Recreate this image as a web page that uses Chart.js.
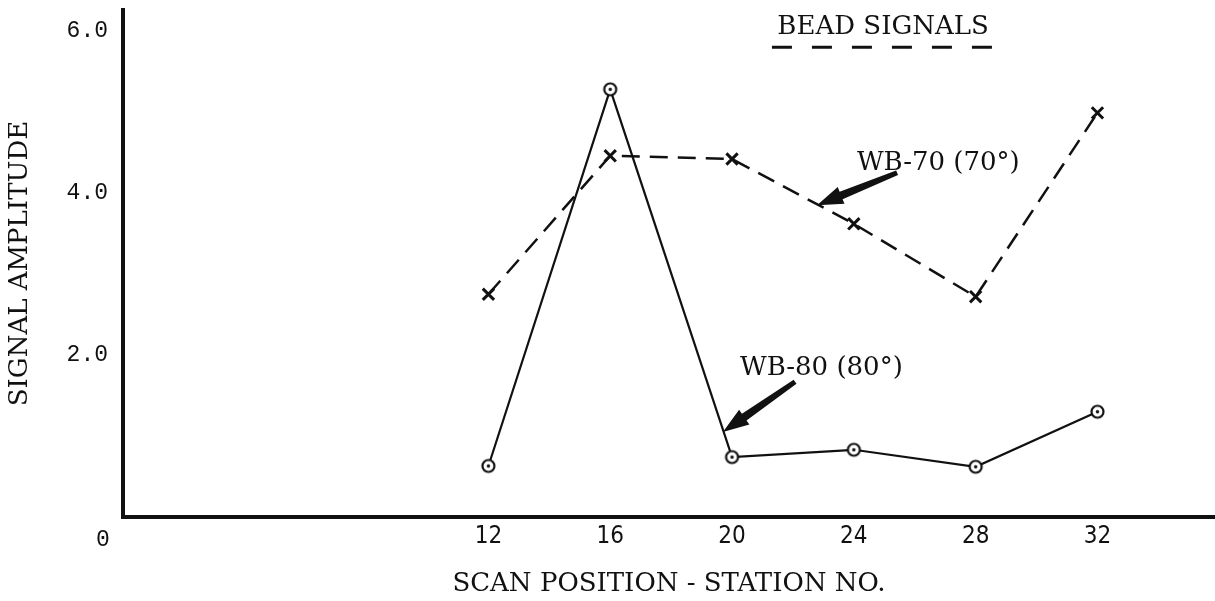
<!DOCTYPE html>
<html>
<head>
<meta charset="utf-8">
<script src="https://cdn.jsdelivr.net/npm/chart.js@4.4.1/dist/chart.umd.min.js"></script>
<style>
  html, body { margin: 0; padding: 0; background: #fff; overflow: hidden; }
  #wrap { width: 1215px; height: 601px; position: relative; }
</style>
</head>
<body>
<div id="wrap"><canvas id="c"></canvas></div>
<script>
// ---- data ----
const stations = [12, 16, 20, 24, 28, 32];
const wb80 = [0.63, 5.28, 0.74, 0.83, 0.62, 1.30];
const wb70 = [2.75, 4.46, 4.42, 3.62, 2.72, 4.99];
const xTickValues = [12, 16, 20, 24, 28, 32];
const yTickValues = [2, 4, 6];
const xTitle = 'SCAN POSITION - STATION NO.';
const yTitle = 'SIGNAL AMPLITUDE';
const legendTitle = 'BEAD SIGNALS';
const label80 = 'WB-80 (80°)';
const label70 = 'WB-70 (70°)';

const ink = '#111';
const serif = '"DejaVu Serif", "Liberation Serif", serif';

// circle-with-dot marker
function dotCircle() {
  const c = document.createElement('canvas');
  c.width = 17; c.height = 17;
  const g = c.getContext('2d');
  g.fillStyle = '#fff';
  g.strokeStyle = ink;
  g.lineWidth = 2.2;
  g.beginPath(); g.arc(8.5, 8.5, 6, 0, Math.PI * 2); g.fill(); g.stroke();
  g.fillStyle = ink;
  g.beginPath(); g.arc(8.5, 8.5, 1.7, 0, Math.PI * 2); g.fill();
  return c;
}

const annot = {
  id: 'annot',
  afterDatasetsDraw(chart) {
    const { ctx, scales: { x, y } } = chart;
    const X = v => x.getPixelForValue(v), Y = v => y.getPixelForValue(v);
    ctx.save();
    ctx.fillStyle = ink; ctx.strokeStyle = ink;
    // origin label
    ctx.font = '23px "Liberation Mono", monospace';
    ctx.textAlign = 'center'; ctx.textBaseline = 'middle';
    ctx.fillText('0', X(0) - 20, Y(0) + 23);
    // legend heading
    ctx.font = '26px ' + serif;
    ctx.fillText(legendTitle, X(24.96), Y(6.05));
    ctx.lineWidth = 3;
    ctx.setLineDash([20, 20]);
    ctx.beginPath(); ctx.moveTo(X(21.31), Y(5.80)); ctx.lineTo(X(28.57), Y(5.80)); ctx.stroke();
    ctx.setLineDash([]);
    // labels
    ctx.textAlign = 'left';
    ctx.font = '26px ' + serif;
    ctx.fillText(label70, X(24.1), Y(4.37));
    ctx.fillText(label80, X(20.26), Y(1.84));
    // arrows
    function arrow(x1, y1, x2, y2) {
      const ax = X(x1), ay = Y(y1), bx = X(x2), by = Y(y2);
      const ang = Math.atan2(by - ay, bx - ax);
      const L = Math.hypot(bx - ax, by - ay);
      const headL = 26, headW = 9, tailW = 2.5, shaftW = 4;
      ctx.save();
      ctx.translate(ax, ay); ctx.rotate(ang);
      ctx.beginPath();
      ctx.moveTo(0, -tailW);
      ctx.lineTo(L - headL, -shaftW);
      ctx.lineTo(L - headL, -headW);
      ctx.lineTo(L, 0);
      ctx.lineTo(L - headL, headW);
      ctx.lineTo(L - headL, shaftW);
      ctx.lineTo(0, tailW);
      ctx.closePath();
      ctx.fill();
      ctx.restore();
    }
    arrow(25.42, 4.25, 22.79, 3.85);
    arrow(22.07, 1.67, 19.70, 1.05);
    ctx.restore();
  }
};

new Chart(document.getElementById('c'), {
  type: 'line',
  data: {
    datasets: [
      {
        label: label80,
        data: stations.map((s, i) => ({ x: s, y: wb80[i] })),
        borderColor: ink,
        borderWidth: 2.2,
        pointStyle: dotCircle(),
        pointRadius: 7,
        tension: 0,
        fill: false
      },
      {
        label: label70,
        data: stations.map((s, i) => ({ x: s, y: wb70[i] })),
        borderColor: ink,
        borderWidth: 2.5,
        borderDash: [18, 10],
        pointStyle: 'crossRot',
        pointRadius: 8,
        pointBorderWidth: 3,
        pointBorderColor: ink,
        tension: 0,
        fill: false
      }
    ]
  },
  plugins: [annot],
  options: {
    responsive: true,
    maintainAspectRatio: false,
    animation: false,
    layout: { autoPadding: false, padding: { top: 10, right: 0, bottom: 0, left: 0 } },
    plugins: { legend: { display: false }, tooltip: { enabled: false } },
    scales: {
      x: {
        type: 'linear',
        min: 0,
        max: 35.86,
        afterBuildTicks: s => { s.ticks = xTickValues.map(v => ({ value: v })); },
        afterFit: s => { s.height = 84; s.paddingLeft = 0; s.paddingRight = 0; },
        grid: { display: false, drawTicks: false },
        border: { display: true, color: ink, width: 4 },
        ticks: {
          color: ink,
          padding: 5,
          autoSkip: false,
          maxRotation: 0,
          font: { family: '"Liberation Sans Narrow", "DejaVu Sans Condensed", sans-serif', size: 24 },
          callback: v => String(v)
        },
        title: {
          display: true,
          text: xTitle,
          color: ink,
          font: { family: serif, size: 26 },
          padding: { top: 0, bottom: 1 }
        }
      },
      y: {
        min: 0,
        max: 6.26,
        afterBuildTicks: s => { s.ticks = yTickValues.map(v => ({ value: v })); },
        afterFit: s => { s.width = 123; s.paddingTop = 0; s.paddingBottom = 0; },
        grid: { display: false, drawTicks: false },
        border: { display: true, color: ink, width: 4 },
        ticks: {
          color: ink,
          padding: 15,
          font: { family: '"Liberation Mono", monospace', size: 23 },
          callback: v => Number(v).toFixed(1)
        },
        title: {
          display: true,
          text: yTitle,
          color: ink,
          font: { family: serif, size: 26 },
          padding: { top: 5, bottom: 0 }
        }
      }
    }
  }
});
</script>
</body>
</html>
